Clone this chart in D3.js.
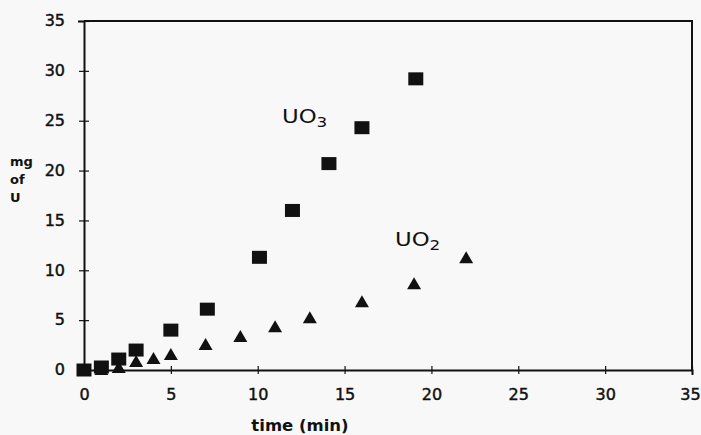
<!DOCTYPE html>
<html>
<head>
<meta charset="utf-8">
<script src="https://cdn.jsdelivr.net/npm/d3@7"></script>
<style>
  html, body { margin: 0; padding: 0; background: #f7f8f7; }
  svg { display: block; }
  text { fill: #111; }
</style>
</head>
<body>
<svg id="chart" width="701" height="435"></svg>
<script>
// Uranium dissolved (mg) versus time (min) for the two oxides
const uo3Time = [0, 1, 2, 3, 5, 7.1, 10.1, 12, 14.1, 16, 19.1];
const uo3Mg   = [0, 0.3, 1.1, 2.0, 4.0, 6.1, 11.3, 16.0, 20.7, 24.3, 29.2];
const uo2Time = [0, 1, 2, 3, 4, 5, 7, 9, 11, 13, 16, 19, 22];
const uo2Mg   = [0, 0.1, 0.3, 0.9, 1.2, 1.6, 2.6, 3.4, 4.4, 5.3, 6.9, 8.7, 11.3];
const xTicks = [0, 5, 10, 15, 20, 25, 30, 35];
const yTicks = [0, 5, 10, 15, 20, 25, 30, 35];

const svg = d3.select("#chart");
const x = d3.scaleLinear().domain([0, 35]).range([84, 692]);
const y = d3.scaleLinear().domain([0, 35]).range([370, 21]);

const tickFont = "'DejaVu Sans', sans-serif";

// frame: top and right edges
svg.append("path")
  .attr("d", `M${x(0)},${y(35)}H${x(35)}V${y(0)}`)
  .attr("fill", "none").attr("stroke", "#111").attr("stroke-width", 2);

// y axis with ticks crossing the line
const yAxis = svg.append("g")
  .attr("transform", `translate(${x(0)},0)`)
  .call(d3.axisLeft(y).tickValues(yTicks).tickSize(5).tickPadding(14).tickFormat(d3.format("d")));
yAxis.select(".domain").attr("stroke", "#111").attr("stroke-width", 2);
yAxis.selectAll(".tick line").attr("x1", 5).attr("stroke", "#111").attr("stroke-width", 1.2);
yAxis.selectAll(".tick text")
  .attr("font-family", tickFont).attr("font-size", 16).attr("dy", "0.3em")
  .attr("fill", "#111").attr("stroke", "#111").attr("stroke-width", 0.45);

// x axis with ticks crossing the line
const xAxis = svg.append("g")
  .attr("transform", `translate(0,${y(0)})`)
  .call(d3.axisBottom(x).tickValues(xTicks).tickSize(4).tickPadding(15).tickFormat(d3.format("d")));
xAxis.select(".domain").attr("stroke", "#111").attr("stroke-width", 2);
xAxis.selectAll(".tick line").attr("y1", -4).attr("stroke", "#111").attr("stroke-width", 1.2);
xAxis.selectAll(".tick text")
  .attr("font-family", tickFont).attr("font-size", 16)
  .attr("fill", "#111").attr("stroke", "#111").attr("stroke-width", 0.45)
  .attr("dx", d => d === 35 ? -2 : 0);
svg.selectAll(".domain").attr("stroke-linecap", "square");

// axis titles
svg.append("text")
  .attr("x", 300).attr("y", 431)
  .attr("text-anchor", "middle")
  .attr("font-family", tickFont).attr("font-weight", "bold").attr("font-size", 15)
  .attr("transform", "translate(300,0) scale(1.1,1) translate(-300,0)")
  .text("time (min)");

const yTitle = svg.append("text")
  .attr("font-family", tickFont).attr("font-weight", "bold").attr("font-size", 13);
["mg", "of", "U"].forEach((t, i) => {
  yTitle.append("tspan").attr("x", 10).attr("y", 166 + i * 18).text(t);
});

// UO3 series: filled squares
const uo3 = uo3Time.map((t, i) => ({ t, v: uo3Mg[i] }));
svg.append("g").selectAll("rect")
  .data(uo3).join("rect")
  .attr("x", d => x(d.t) - 7.5).attr("y", d => y(d.v) - 6.5)
  .attr("width", 15).attr("height", 13)
  .attr("fill", "#111");

// UO2 series: filled triangles
const uo2 = uo2Time.map((t, i) => ({ t, v: uo2Mg[i] }));
svg.append("g").selectAll("path")
  .data(uo2).join("path")
  .attr("d", d => {
    const cx = x(d.t), cy = y(d.v);
    return `M${cx},${cy - 6}L${cx + 7},${cy + 6}L${cx - 7},${cy + 6}Z`;
  })
  .attr("fill", "#111");

// series labels with subscripts
function seriesLabel(px, py, base, sub) {
  const t = svg.append("text")
    .attr("transform", `translate(${px},${py}) scale(1.2,1)`)
    .attr("font-family", tickFont).attr("font-size", 19);
  t.append("tspan").text(base);
  t.append("tspan").attr("font-size", 14).attr("dy", 4).text(sub);
}
seriesLabel(282, 123, "UO", "3");
seriesLabel(395, 246, "UO", "2");
</script>
</body>
</html>
